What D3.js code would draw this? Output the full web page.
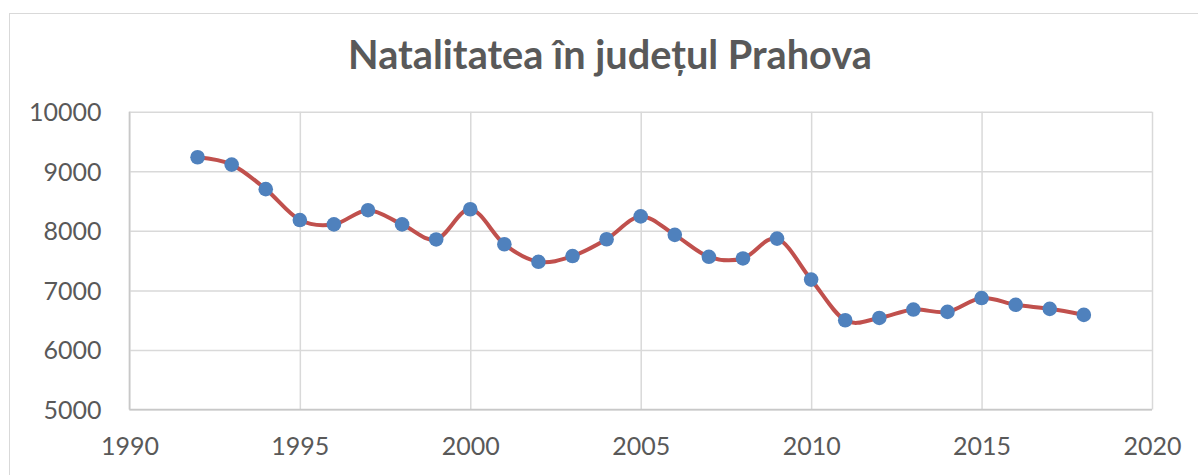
<!DOCTYPE html>
<html>
<head>
<meta charset="utf-8">
<script src="https://cdn.jsdelivr.net/npm/d3@7"></script>
<style>
  body { margin: 0; background: #fff; }
  .canvas svg { display: block; }
</style>
</head>
<body>
<div class="canvas"></div>
<script>
// data
const years = [1992, 1993, 1994, 1995, 1996, 1997, 1998, 1999, 2000, 2001, 2002, 2003, 2004, 2005,
    2006, 2007, 2008, 2009, 2010, 2011, 2012, 2013, 2014, 2015, 2016, 2017, 2018];
const births = [9235, 9112, 8700, 8181, 8108, 8346, 8108, 7855, 8362, 7775, 7480, 7576, 7859, 8242,
    7932, 7564, 7536, 7869, 7181, 6498, 6537, 6678, 6639, 6871, 6758, 6690, 6588];
const xTicks = [1990, 1995, 2000, 2005, 2010, 2015, 2020];
const yTicks = [5000, 6000, 7000, 8000, 9000, 10000];
const title = 'Natalitatea în județul Prahova';

const width = 1198;
const height = 475;

const svg = d3.select('.canvas')
    .append('svg')
    .attr('width', width)
    .attr('height', height);

// chart area border (runs off the picture on the right and bottom)
svg.append('rect')
    .attr('x', 9.5)
    .attr('y', 13.5)
    .attr('width', 1300)
    .attr('height', 600)
    .attr('fill', '#fff')
    .attr('stroke', '#d9d9d9')
    .attr('stroke-width', 1);

const margin = { top: 111.7, right: 46, left: 129.4, bottom: 65.5 };
const graphWidth = width - margin.left - margin.right;
const graphHeight = height - margin.top - margin.bottom;

const graph = svg.append('g')
    .attr('transform', `translate(${margin.left}, ${margin.top})`);

const x = d3.scaleLinear()
    .domain([1990, 2020])
    .range([0, graphWidth]);

const y = d3.scaleLinear()
    .domain([5000, 10000])
    .range([graphHeight, 0]);

// gridlines
const gridX = graph.append('g')
    .attr('transform', `translate(0, ${graphHeight})`)
    .call(d3.axisBottom(x).tickValues(xTicks).tickSize(-graphHeight).tickFormat(''));
const gridY = graph.append('g')
    .call(d3.axisLeft(y).tickValues(yTicks).tickSize(-graphWidth).tickFormat(''));

[gridX, gridY].forEach(g => {
    g.select('.domain').remove();
    g.selectAll('line')
        .attr('stroke', '#d9d9d9')
        .attr('stroke-width', 1.5);
});

// axis lines
graph.append('line')
    .attr('x1', 0).attr('x2', graphWidth)
    .attr('y1', graphHeight).attr('y2', graphHeight)
    .attr('stroke', '#c8c8c8')
    .attr('stroke-width', 1.5);
graph.append('line')
    .attr('x1', 0).attr('x2', 0)
    .attr('y1', 0).attr('y2', graphHeight)
    .attr('stroke', '#c8c8c8')
    .attr('stroke-width', 1.5);

// tick labels
const xAxisGroup = graph.append('g')
    .attr('transform', `translate(0, ${graphHeight})`)
    .call(d3.axisBottom(x).tickValues(xTicks).tickSize(0).tickPadding(28).tickFormat(d => d));
const yAxisGroup = graph.append('g')
    .call(d3.axisLeft(y).tickValues(yTicks).tickSize(0).tickPadding(28).tickFormat(d => d));

[xAxisGroup, yAxisGroup].forEach(g => {
    g.select('.domain').remove();
    g.selectAll('text')
        .attr('fill', '#595959')
        .style('font-family', 'Lato, "Open Sans", sans-serif')
        .style('font-size', '25px');
});
yAxisGroup.selectAll('text').attr('dy', '0.36em');
xAxisGroup.selectAll('text').attr('dy', '0.71em');

// smoothed line
const points = years.map((yr, i) => ({ year: yr, value: births[i] }));

const line = d3.line()
    .x(d => x(d.year))
    .y(d => y(d.value))
    .curve(d3.curveCardinal.tension(0));

graph.append('path')
    .datum(points)
    .attr('fill', 'none')
    .attr('stroke', '#c0504d')
    .attr('stroke-width', 4)
    .attr('stroke-linecap', 'round')
    .attr('d', line);

graph.selectAll('circle')
    .data(points)
    .enter()
    .append('circle')
    .attr('cx', d => x(d.year))
    .attr('cy', d => y(d.value))
    .attr('r', 7.3)
    .attr('fill', '#4f81bd');

// title
const titleText = svg.append('text')
    .attr('x', 610)
    .attr('y', 69)
    .attr('text-anchor', 'middle')
    .attr('fill', '#595959')
    .style('font-family', 'Lato, "Open Sans", sans-serif')
    .style('font-weight', 'bold')
    .style('font-size', '34px')
    .text(title);

// fit title to the reference width
const tw = titleText.node().getComputedTextLength();
titleText.style('font-size', (34 * 524 / tw).toFixed(1) + 'px');
</script>
</body>
</html>
